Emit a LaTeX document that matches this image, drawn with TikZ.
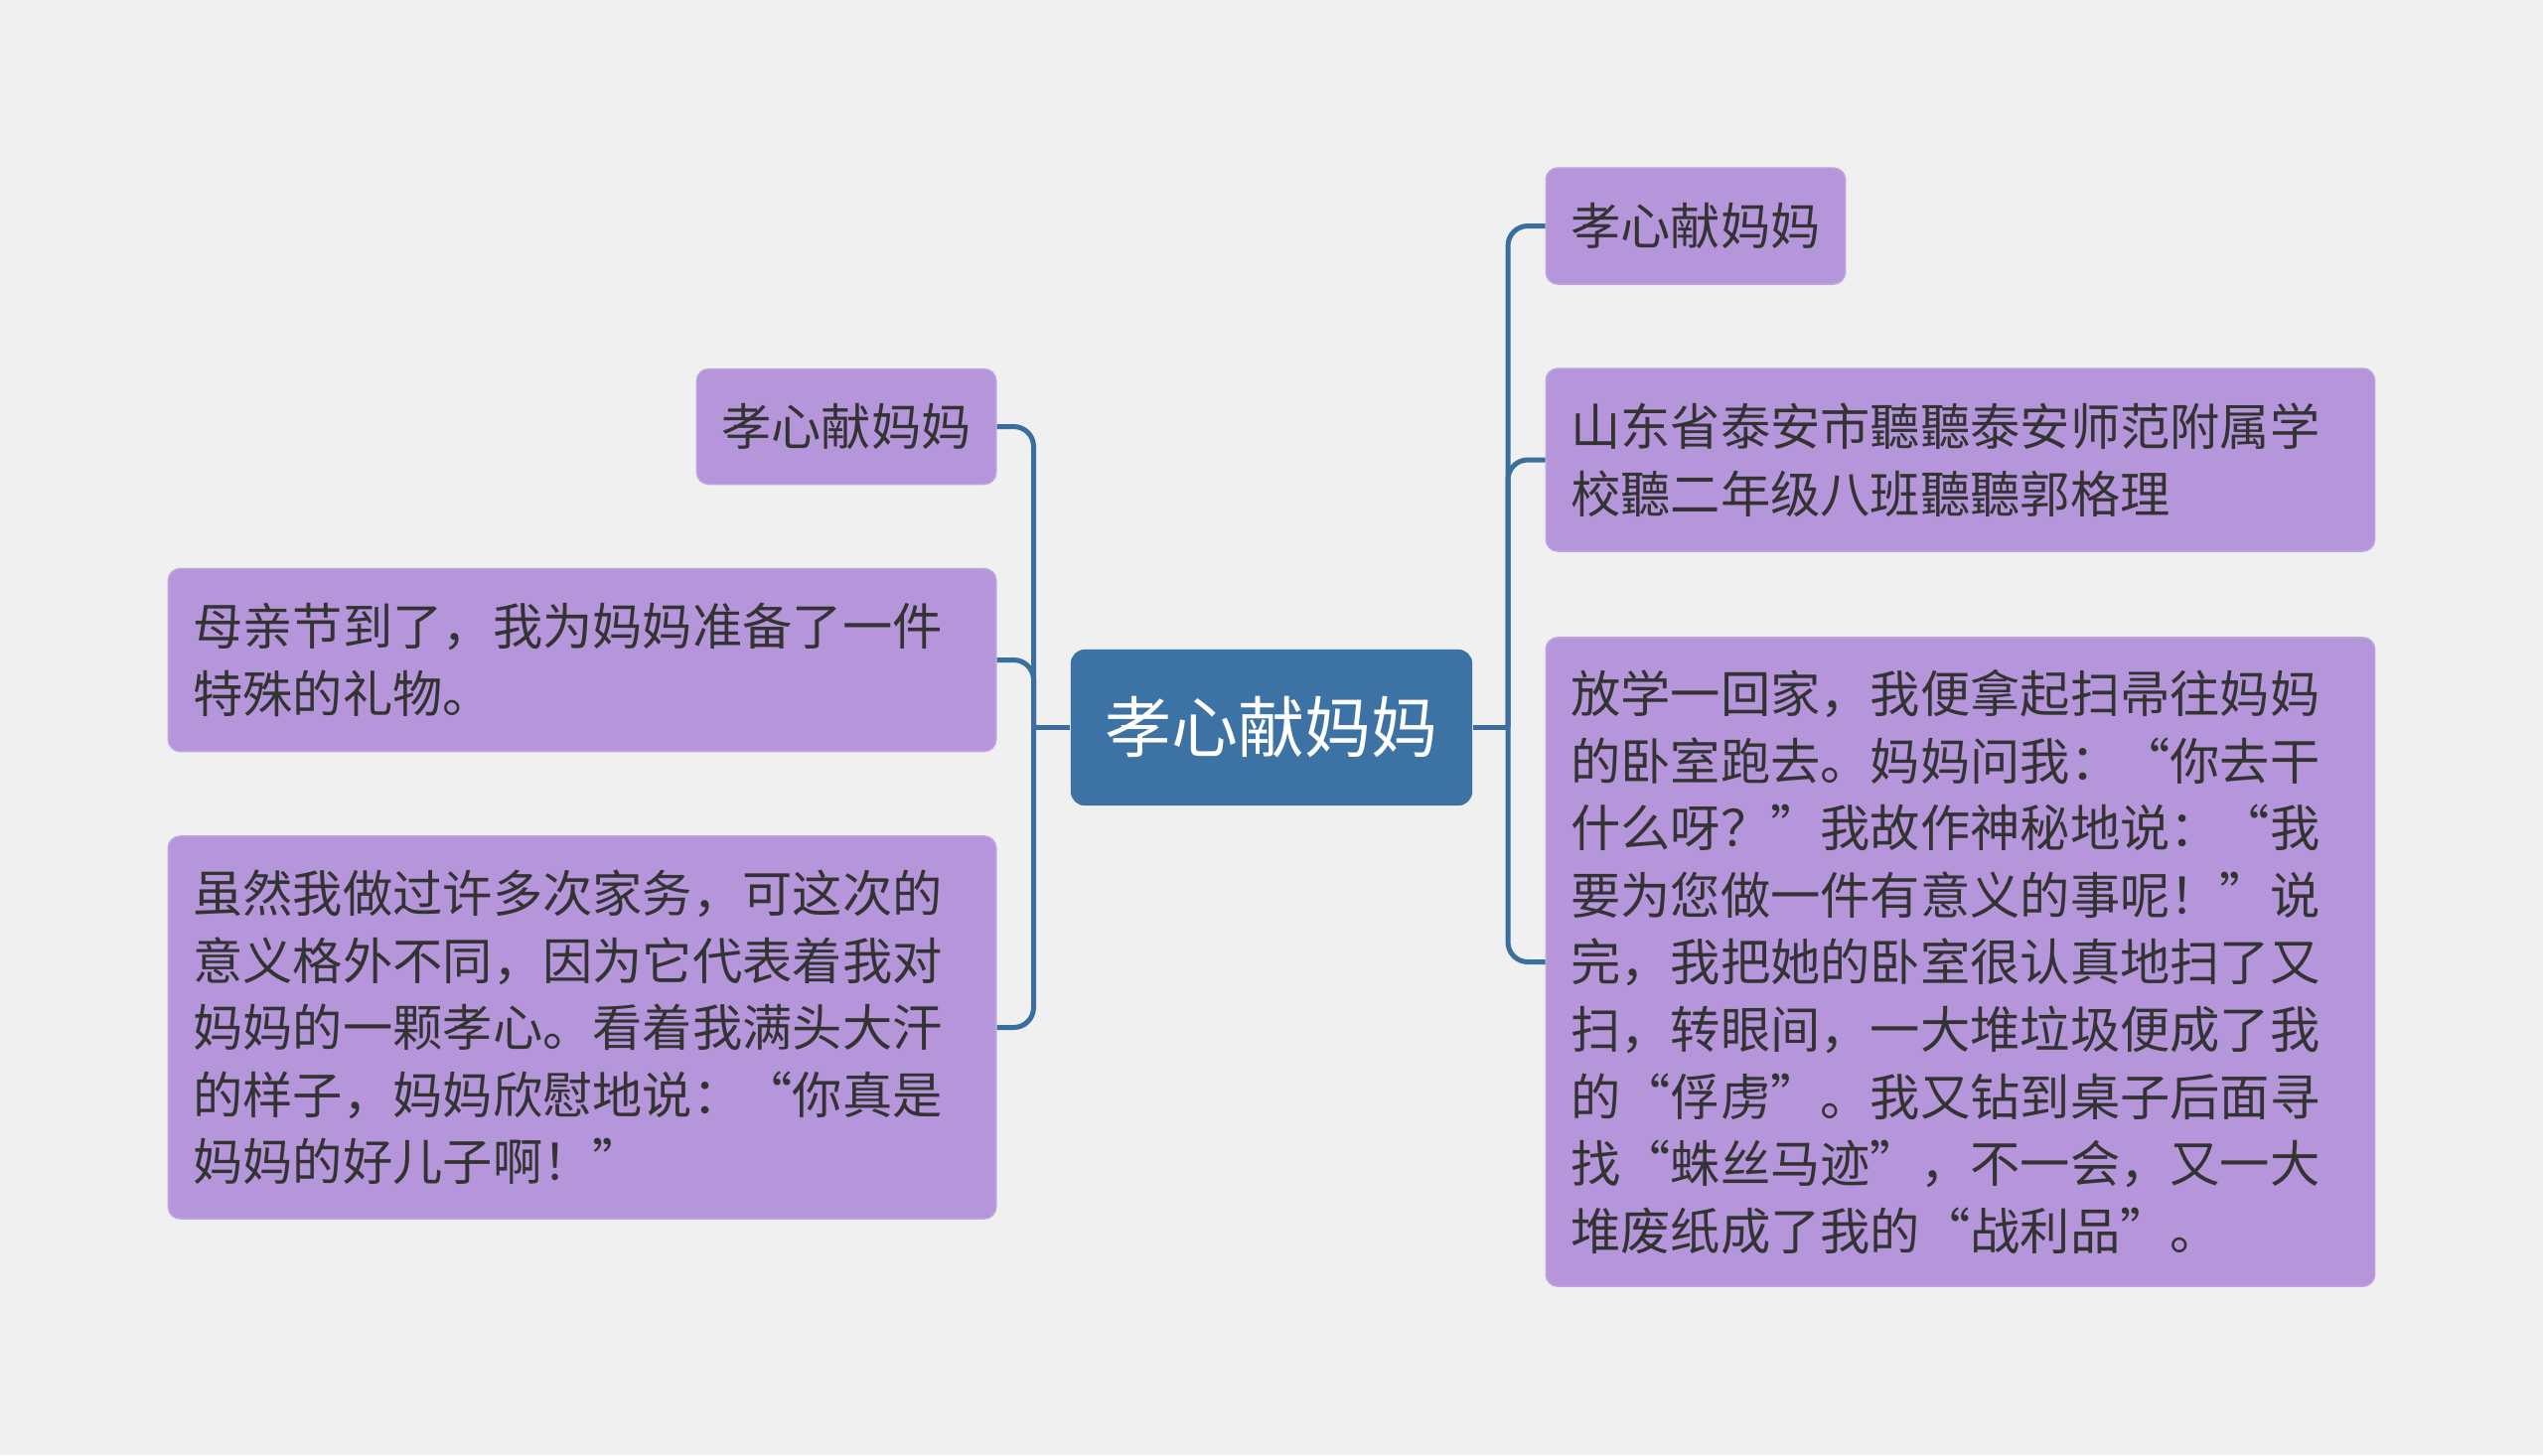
\documentclass[tikz,border=0pt]{standalone}
\usepackage{fontspec}
\newfontfamily\cjk{Noto Sans CJK SC}
\definecolor{bg}{HTML}{F0F0F0}
\definecolor{leaf}{HTML}{B696DA}
\definecolor{leafedge}{HTML}{C0A4E0}
\definecolor{root}{HTML}{3C72A4}
\definecolor{conncol}{HTML}{3A6E9F}
\definecolor{ink}{HTML}{333333}
\newcommand\myoq{\makebox[1em][r]{“}}
\newcommand\mycq{\makebox[1em][l]{”}}
\tikzset{
  leafbox/.style={rectangle, rounded corners=0.12cm, fill=leaf, draw=leafedge, line width=0.4pt,
    text=ink, font=\cjk\fontsize{14.3pt}{19.2pt}\selectfont, inner xsep=0.25cm, inner ysep=0pt, align=left},
  rootbox/.style={rectangle, rounded corners=0.14cm, fill=root, draw=none, text=white,
    font=\cjk\fontsize{19.07pt}{24pt}\selectfont, minimum width=4.04cm, minimum height=1.57cm, inner sep=0pt},
  conn/.style={draw=conncol, line width=1.42pt, rounded corners=0.2cm}
}
\begin{document}
\begin{tikzpicture}[x=0.01cm, y=-0.01cm]
\fill[bg] (0,0) rectangle (2560,1465);
\useasboundingbox (0,0) rectangle (2560,1465);

\node[rootbox] (c) at (1280,732.5) {孝心献妈妈};

\node[leafbox, anchor=east, minimum height=1.16cm] (l1) at (1003.5,429.5) {孝心献妈妈};
\node[leafbox, anchor=east, text width=7.83cm, minimum height=1.84cm] (l2) at (1003.5,664.5)
  {母亲节到了，我为妈妈准备了一件\\特殊的礼物。};
\node[leafbox, anchor=east, text width=7.83cm, minimum height=3.85cm] (l3) at (1003.5,1034.5)
  {虽然我做过许多次家务，可这次的\\意义格外不同，因为它代表着我对\\妈妈的一颗孝心。看着我满头大汗\\的样子，妈妈欣慰地说：\myoq 你真是\\妈妈的好儿子啊！\mycq};

\node[leafbox, anchor=west, minimum height=1.17cm] (r1) at (1555.5,227.5) {孝心献妈妈};
\node[leafbox, anchor=west, text width=7.84cm, minimum height=1.84cm] (r2) at (1555.5,463)
  {山东省泰安市聽聽泰安师范附属学\\校聽二年级八班聽聽郭格理};
\node[leafbox, anchor=west, text width=7.84cm, minimum height=6.53cm] (r3) at (1555.5,968.5)
  {放学一回家，我便拿起扫帚往妈妈\\的卧室跑去。妈妈问我：\myoq 你去干\\什么呀？\mycq 我故作神秘地说：\myoq 我\\要为您做一件有意义的事呢！\mycq 说\\完，我把她的卧室很认真地扫了又\\扫，转眼间，一大堆垃圾便成了我\\的\myoq 俘虏\mycq 。我又钻到桌子后面寻\\找\myoq 蛛丝马迹\mycq ，不一会，又一大\\堆废纸成了我的\myoq 战利品\mycq 。};

\coordinate (lt) at (1040.5,732.5);
\coordinate (rt) at (1518,732.5);

\draw[conn] (c.west) -- (lt);
\draw[conn] (c.east) -- (rt);
\draw[conn] (lt) |- (l1.east);
\draw[conn] (lt) |- (l2.east);
\draw[conn] (lt) |- (l3.east);
\draw[conn] (rt) |- (r1.west);
\draw[conn] (rt) |- (r2.west);
\draw[conn] (rt) |- (r3.west);
\end{tikzpicture}
\end{document}
